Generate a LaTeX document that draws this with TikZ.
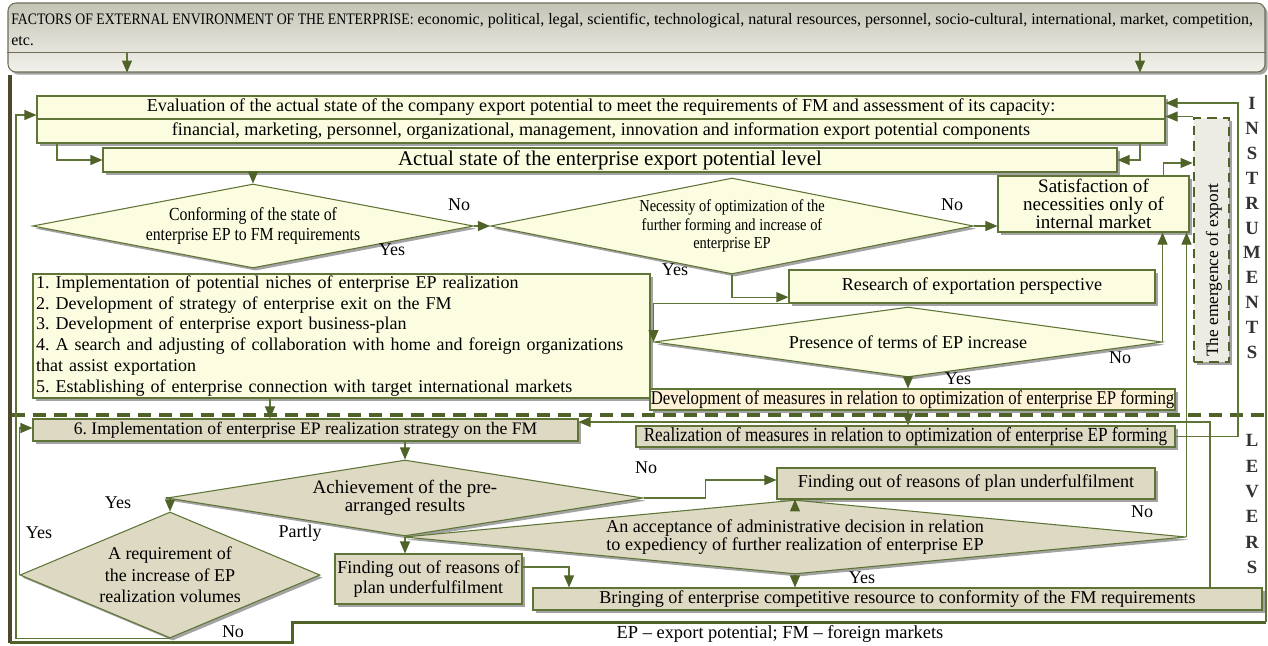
\documentclass[tikz,border=0pt]{standalone}
\usepackage{fontspec}
\setmainfont{Liberation Serif}
\newfontfamily\cond{Liberation Serif}[FakeStretch=0.86]
\usetikzlibrary{arrows.meta,shadows,calc,shapes.geometric}
\definecolor{cream}{RGB}{252,252,224}
\definecolor{tanc}{RGB}{221,217,195}
\definecolor{peach}{RGB}{253,242,214}
\definecolor{olive}{RGB}{95,117,55}
\definecolor{darkolive}{RGB}{79,98,40}
\definecolor{framec}{RGB}{77,72,44}
\definecolor{emgray}{RGB}{236,236,228}
\frenchspacing
\begin{document}
\begin{tikzpicture}[x=0.75pt,y=-0.75pt,
  shad/.style={drop shadow={shadow xshift=2pt,shadow yshift=-2pt,fill=black!45,opacity=0.8}},
  box/.style={rectangle,draw=olive,line width=0.8pt,fill=cream,inner sep=0pt,shad,font=\fontsize{13.6}{15.5}\selectfont,align=center},
  tbox/.style={box,fill=tanc},
  dia/.style={diamond,draw=olive,line width=0.8pt,fill=cream,inner sep=0pt,shad,font=\fontsize{13.6}{15.5}\selectfont,align=center},
  tdia/.style={dia,fill=tanc},
  arr/.style={draw=olive,line width=0.8pt,-{Triangle[length=9pt,width=7.5pt,color=darkolive]}},
  lab/.style={font=\fontsize{13.5}{15}\selectfont,inner sep=0pt},
  letters/.style={font=\bfseries\fontsize{14}{18.7}\selectfont,align=center,inner sep=0pt,text=black!80}
]
\useasboundingbox (0,0) rectangle (1268,646);

% top box
\node[rectangle,minimum width=942.75pt,minimum height=51.75pt,inner sep=0pt,draw=framec!80,line width=0.8pt,rounded corners=6pt,
  top color={rgb,255:red,196;green,196;blue,182},bottom color={rgb,255:red,242;green,242;blue,236},shad] (top) at (636.5,37.5) {};
\draw[framec!80,line width=0.6pt] (top.west |- 0,52) -- (top.east |- 0,52);
\node[anchor=north west,inner sep=0pt,align=left,font=\fontsize{12}{15.75}\selectfont] (toptext) at (11,13)
  {{\cond FACTORS OF EXTERNAL ENVIRONMENT OF THE ENTERPRISE:} economic, political, legal, scientific, technological, natural resources, personnel, socio-cultural, international, market, competition,\\etc.};
\coordinate (td1) at (127,52);
\coordinate (td2) at (1140,52);
\draw[arr] (td1) -- (td1 |- top.south);
\draw[arr] (td2) -- (td2 |- top.south);

% frame
\draw[darkolive,line width=3pt,dash pattern=on 9.75pt off 6pt] (12,415) -- (1266,415);
\draw[framec,line width=3pt] (10,75) -- (10,643);
\draw[darkolive,line width=2.25pt] (10,642) -- (292,642) -- (292,622) -- (1266,622);
\draw[olive,line width=1pt] (1266,75) -- (1266,622);

% upper nodes
\node[box,minimum width=846pt,minimum height=17.25pt] (eval1) at (601,107.5) {Evaluation of the actual state of the company export potential to meet the requirements of FM and assessment of its capacity:};
\node[box,minimum width=846pt,minimum height=18pt] (eval2) at (601,131) {financial, marketing, personnel, organizational, management, innovation and information export potential components};
\node[box,minimum width=760.5pt,minimum height=18pt,font=\fontsize{15.7}{17}\selectfont] (actual) at (610,160) {Actual state of the enterprise export potential level};

\node[dia,minimum width=330.75pt,minimum height=63pt,shape aspect=5.25,font=\cond\fontsize{13.8}{14.5}\selectfont] (d1) at (253,226) {Conforming of the state of\\enterprise EP to FM requirements};
\node[dia,minimum width=362.25pt,minimum height=72pt,shape aspect=5.03,font=\cond\fontsize{12.6}{14}\selectfont] (d2) at (732,226) {Necessity of optimization of the\\further forming and increase of\\enterprise EP};
\node[box,minimum width=143.25pt,minimum height=42pt,font=\fontsize{14.3}{13.5}\selectfont] (sat) at (1093.5,204) {Satisfaction of\\necessities only of\\internal market};
\node[box,minimum width=274.5pt,minimum height=24.75pt] (research) at (972,286.5) {Research of exportation perspective};
\node[box,minimum width=462.75pt,minimum height=93pt,align=left,font=\fontsize{13.5}{15.6}\selectfont,text width=458pt] (list) at (341.5,336) {1. Implementation of potential niches of enterprise EP realization\\2. Development of strategy of enterprise exit on the FM\\3. Development of enterprise export business-plan\\4. A search and adjusting of collaboration with home and foreign organizations\\that assist exportation\\5. Establishing of enterprise connection with target international markets};
\node[dia,minimum width=381pt,minimum height=52.5pt,shape aspect=7.26] (pres) at (908,342) {Presence of terms of EP increase};
\node[box,minimum width=393.75pt,minimum height=15.75pt,fill=peach,font=\cond\fontsize{14.6}{15}\selectfont] (dev) at (912.5,399.5) {Development of measures in relation to optimization of enterprise EP forming};
\node[box,minimum width=26.25pt,minimum height=183pt,fill=emgray,draw=darkolive,line width=2.2pt,dash pattern=on 7pt off 4.5pt] (emerg) at (1211.5,240) {};
\node[rotate=90,anchor=base west,inner sep=0pt,font=\fontsize{13}{14}\selectfont] (emergt) at (1218,357) {The emergence of export};

% lower nodes
\node[tbox,minimum width=408.75pt,minimum height=16.5pt,font=\fontsize{13.2}{15}\selectfont] (impl6) at (305.5,430) {6. Implementation of enterprise EP realization strategy on the FM};
\node[tbox,minimum width=404.25pt,minimum height=15.75pt,font=\cond\fontsize{15}{15}\selectfont] (real) at (905.5,436.5) {Realization of measures in relation to optimization of enterprise EP forming};
\node[tdia,minimum width=357pt,minimum height=57pt,shape aspect=6.26,font=\fontsize{14.2}{14}\selectfont] (d3) at (405,498) {Achievement of the pre-\\arranged results};
\node[tbox,minimum width=283.5pt,minimum height=23.25pt] (find1) at (966,483.5) {Finding out of reasons of plan underfulfilment};
\node[tdia,minimum width=225pt,minimum height=94.5pt,shape aspect=2.38,font=\fontsize{13.5}{16}\selectfont] (d4) at (170,575) {A requirement of\\the increase of EP\\realization volumes};
\node[tdia,minimum width=586.5pt,minimum height=55.5pt,shape aspect=10.57,font=\fontsize{13.6}{14}\selectfont] (d5) at (795,537) {An acceptance of administrative decision in relation\\to expediency of further realization of enterprise EP};
\node[tbox,minimum width=140.25pt,minimum height=37.5pt] (find2) at (428.5,579) {Finding out of reasons of\\plan underfulfilment};
\node[tbox,minimum width=546.75pt,minimum height=16.5pt] (bring) at (897.5,599) {Bringing of enterprise competitive resource to conformity of the FM requirements};

% side letters and legend
\node[letters] (instr) at (1252,228) {I\\N\\S\\T\\R\\U\\M\\E\\N\\T\\S};
\node[letters,font=\bfseries\fontsize{14}{19}\selectfont] (levers) at (1252,504) {L\\E\\V\\E\\R\\S};
\node[lab,font=\fontsize{13.8}{15}\selectfont] (legend) at (780,634) {EP – export potential; FM – foreign markets};

% connectors
\draw[arr] (eval2.south -| 57,0) |- (actual.west);
\draw[arr] (eval2.south -| 1140,0) |- (actual.east);
\draw[arr] (actual.south -| d1.north) -- (d1.north);
\draw[arr] (d1.east) -- (d2.west);
\draw[arr] (d2.east) -- (d2.east -| sat.west);
\draw[arr] (d2.south) |- ([yshift=-8pt]research.west);
\draw[arr] (research.south west) -| (pres.west);
\draw[arr] (pres.east) -- (pres.east |- sat.south);
\draw[arr] (pres.south) -- (pres.south |- dev.north);
\draw[arr] (dev.south -| pres.south) -- (pres.south |- real.north);
\coordinate (rc) at (1238,103);
\draw[arr] (real.east) -| (rc) -- (rc -| eval1.east);
\draw[arr] (emerg.north west) -- (emerg.north west -| eval1.east);
\draw[arr] ([xshift=-19.5pt]sat.north east) |- (emerg.west |- 0,163);
\draw[arr] (list.south -| 270,0) -- (270,0 |- impl6.north);
\draw[arr] (impl6.south -| d3.north) -- (d3.north);
\draw[arr] (d3.west) -| (d4.north);
\draw[arr] (d4.west) |- (impl6.west |- 0,428);
\draw[arr] (d4.south) -- (16,0 |- d4.south) |- (eval1.west |- 0,115);
\draw[arr] (d3.east) -- ++(62,0) |- (find1.west |- 0,480);
\draw[arr] (find1.south -| d5.north) -- (d5.north);
\draw[arr] (d5.south) -- (d5.south |- bring.north);
\draw[arr] (d3.south) -- (d3.south |- find2.north);
\draw[arr] (find2.east |- 0,567) -| (569,0 |- bring.north);
\draw[arr] (d5.east) -- (d5.east |- sat.south);
\draw[arr] (1210,0 |- bring.north) |- (impl6.east |- 0,422);

% labels
\node[lab] (l1) at (459,205) {No};
\node[lab] (l2) at (392,250) {Yes};
\node[lab] (l3) at (952,205) {No};
\node[lab] (l4) at (675,270) {Yes};
\node[lab] (l5) at (1120,358) {No};
\node[lab] (l6) at (958,379) {Yes};
\node[lab] (l7) at (646,468) {No};
\node[lab] (l8) at (118,503) {Yes};
\node[lab] (l9) at (39,533) {Yes};
\node[lab] (l10) at (300,533) {Partly};
\node[lab] (l11) at (1142,512) {No};
\node[lab] (l12) at (862,578) {Yes};
\node[lab] (l13) at (233,632) {No};
\end{tikzpicture}
\end{document}
